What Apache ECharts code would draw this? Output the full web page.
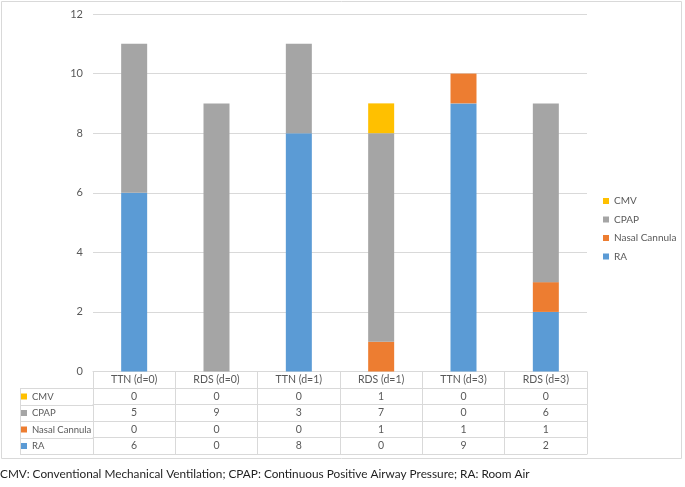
<!DOCTYPE html>
<html><head><meta charset="utf-8">
<script src="https://cdn.jsdelivr.net/npm/echarts@6/dist/echarts.min.js"></script>
<style>html,body{margin:0;padding:0;background:#fff}#c{width:685px;height:487px}</style>
</head><body><div id="c"></div>
<script>
const categories = ['TTN (d=0)','RDS (d=0)','TTN (d=1)','RDS (d=1)','TTN (d=3)','RDS (d=3)'];
const CMV = [0,0,0,1,0,0];
const CPAP = [5,9,3,7,0,6];
const NasalCannula = [0,0,0,1,1,1];
const RA = [6,0,8,0,9,2];
const yTicks = [0,2,4,6,8,10,12];
const caption = 'CMV: Conventional Mechanical Ventilation; CPAP: Continuous Positive Airway Pressure; RA: Room Air';

const FONT = 'Lato';
const GREY = '#595959';
const LINE = '#d9d9d9';
const gridLeft = 93, gridWidth = 494, gridTop = 14, gridHeight = 357.5;
const rowH = 16.5;
const tableLeft = 20;

const rows = [
  {name:'CMV', data:CMV, color:'#ffc000'},
  {name:'CPAP', data:CPAP, color:'#a5a5a5'},
  {name:'Nasal Cannula', data:NasalCannula, color:'#ed7d31'},
  {name:'RA', data:RA, color:'#5b9bd5'}
];
const stackOrder = ['RA','Nasal Cannula','CPAP','CMV'];

const baseX = {
  type:'category', gridIndex:0, position:'bottom', data:categories,
  axisLine:{show:true, lineStyle:{color:LINE, width:1}},
  axisTick:{show:true, interval:0, length:rowH, lineStyle:{color:LINE, width:1}},
  axisLabel:{interval:0, color:GREY, fontFamily:FONT, fontSize:10.5, margin:3},
  splitLine:{show:false}
};
const xAxes = [Object.assign({}, baseX, {offset:0})];
rows.forEach((r,i)=>{
  xAxes.push(Object.assign({}, baseX, {
    offset: rowH*(i+1),
    axisLabel: Object.assign({}, baseX.axisLabel, {formatter:(v,idx)=>String(r.data[idx])})
  }));
});
xAxes.push(Object.assign({}, baseX, {offset: rowH*5, axisTick:{show:false}, axisLabel:{show:false}}));

const series = stackOrder.map(n=>{
  const r = rows.find(x=>x.name===n);
  return {name:r.name, type:'bar', stack:'s', xAxisIndex:0, yAxisIndex:0, data:r.data,
    barWidth:26, itemStyle:{color:r.color}};
});

const yBottom = gridTop + gridHeight;
const graphics = [
  {type:'rect', shape:{x:1.5,y:1.5,width:680,height:457}, style:{fill:'none', stroke:LINE, lineWidth:1}, silent:true},
  {type:'line', shape:{x1:tableLeft+0.5, y1:yBottom+rowH, x2:tableLeft+0.5, y2:yBottom+rowH*5}, style:{stroke:LINE, lineWidth:1}}
];
for (let k=1;k<=5;k++){
  const y = Math.round(yBottom + rowH*k) + 0.5;
  graphics.push({type:'line', shape:{x1:tableLeft, y1:y, x2:gridLeft, y2:y}, style:{stroke:LINE, lineWidth:1}});
}

const legendNames = rows.map(r=>r.name);
const option = {
  animation:false,
  textStyle:{fontFamily:FONT},
  title:{text:caption, left:0, top:468, padding:0,
    textStyle:{fontFamily:FONT, fontSize:11.8, fontWeight:'normal', color:'#1f1f1f'}},
  grid:{left:gridLeft, width:gridWidth, top:gridTop, height:gridHeight},
  legend:[
    {data:legendNames, orient:'vertical', left:603, top:196, padding:0, itemGap:8.5,
     itemWidth:6, itemHeight:6, icon:'rect', textStyle:{color:GREY, fontFamily:FONT, fontSize:10}, selectedMode:false},
    {data:legendNames, orient:'vertical', left:21, top:yBottom+rowH+2, padding:0, itemGap:rowH-13,
     itemWidth:6, itemHeight:6, icon:'rect', textStyle:{color:GREY, fontFamily:FONT, fontSize:9.5, lineHeight:13, height:13}, selectedMode:false}
  ],
  xAxis:xAxes,
  yAxis:{type:'value', min:yTicks[0], max:yTicks[yTicks.length-1], interval:2,
    axisLine:{show:false}, axisTick:{show:false},
    axisLabel:{color:GREY, fontFamily:FONT, fontSize:11, margin:10},
    splitLine:{lineStyle:{color:LINE, width:1}}},
  series:series,
  graphic:graphics
};
const chart = echarts.init(document.getElementById('c'), null, {renderer:'canvas'});
chart.setOption(option);
</script></body></html>
